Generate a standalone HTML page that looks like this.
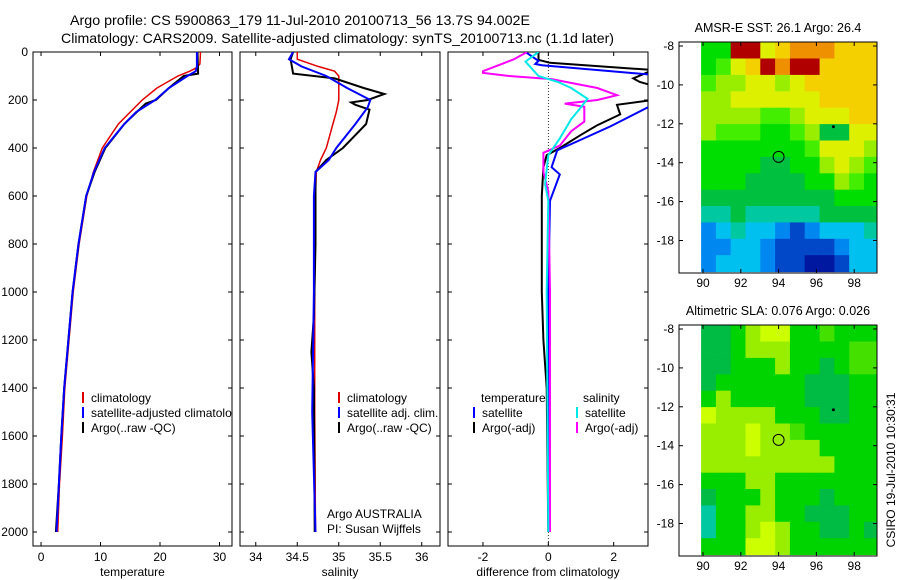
<!DOCTYPE html>
<html><head><meta charset="utf-8"><style>
body{margin:0;background:#fff}
svg{display:block;font-family:"Liberation Sans",sans-serif;font-size:12px}
</style></head><body>
<svg id="fig" width="900" height="580" viewBox="0 0 900 580">
<g id="titles" style="font-size:14px">
<text x="70" y="25" textLength="460" lengthAdjust="spacingAndGlyphs">Argo profile: CS 5900863_179 11-Jul-2010 20100713_56 13.7S 94.002E</text>
<text x="61" y="43" textLength="553" lengthAdjust="spacingAndGlyphs">Climatology: CARS2009. Satellite-adjusted climatology: synTS_20100713.nc (1.1d later)</text>
</g>
<g id="layer"></g>
</svg>
<script>
// ---- data ----
const depthTicks=[0,200,400,600,800,1000,1200,1400,1600,1800,2000];
const tTicks=[0,10,20,30];
const sTicks=[34,34.5,35,35.5,36];
const dTicks=[-2,0,2];
// temperature (depth, value)
const tClimD=[0,50,65,80,100,150,200,300,400,500,600,800,1000,1200,1400,1600,1800,2000];
const tClimV=[26.8,26.7,26.2,25,23,19.5,17,13,10.3,8.8,7.7,6.4,5.4,4.7,4.0,3.6,3.1,2.8];
const tSatD=[0,60,80,100,150,200,250,300,400,500,600,800,1000,1200,1400,1600,1800,2000];
const tSatV=[26.2,26.2,26,24.6,21.5,19.2,16,14,10.7,8.9,7.6,6.3,5.3,4.6,3.9,3.4,3.0,2.6];
const tArgoD=[0,90,100,150,200,215,250,300,400,500,600,800,1000,1200,1400,1600,1800,2000];
const tArgoV=[26.3,26.4,24,21.5,19.3,17.6,16.1,14,10.8,9,7.6,6.3,5.3,4.6,3.9,3.4,3.0,2.5];
// salinity
const sClimD=[0,30,60,80,100,150,200,250,300,400,450,500,600,1000,1500,2000];
const sClimV=[34.5,34.5,34.75,34.95,35.0,35.0,35.0,34.97,34.93,34.85,34.78,34.73,34.72,34.71,34.71,34.72];
const sSatD=[0,30,60,100,150,200,230,300,400,450,500,600,1000,1500,2000];
const sSatV=[34.45,34.4,34.55,34.85,35.1,35.38,35.35,35.2,34.97,34.88,34.72,34.7,34.7,34.68,34.72];
const sArgoD=[0,30,90,110,150,175,200,210,220,240,300,400,450,500,800,1100,1250,1400,2000];
const sArgoV=[34.45,34.42,34.45,34.95,35.3,35.55,35.35,35.15,35.2,35.37,35.33,35.05,34.85,34.72,34.72,34.7,34.67,34.7,34.71];
// differences
const dTSatD=[0,37,50,55,95,220,310,367,410,480,510,620,1000,1500,2000];
const dTSatV=[-0.7,-0.3,-0.4,-0.2,3.2,3.2,1.9,0.97,0.27,0.1,0.35,0.05,0,0,0.05];
const dTArgoD=[0,33,45,75,110,125,140,185,200,220,260,305,345,400,430,480,600,1000,1200,1400,2000];
const dTArgoV=[-0.3,-0.3,0.05,3.2,2.6,2.8,3.2,3.2,3.2,2.1,2.2,1.5,1.0,0.35,-0.05,-0.15,-0.2,-0.2,-0.15,-0.05,0];
const dSArgoD=[0,30,80,87,100,113,150,180,200,215,228,290,330,390,420,500,580,1000,2000];
const dSArgoV=[-0.65,-1.05,-2.0,-2.0,-1.2,0.1,1.5,2.1,1.5,0.5,1.1,1.1,0.7,0.35,-0.15,-0.15,0,0.05,0.05];
const dSSatD=[0,40,55,100,125,150,195,230,280,360,430,550,620,1000,2000];
const dSSatV=[-0.3,-0.7,-0.6,-0.3,0.3,0.7,1.2,1.0,0.7,0.35,0,-0.1,0,-0.05,0];
// legends
const leg1=[["climatology","#e00000"],["satellite-adjusted climatology","#0000ff"],["Argo(..raw -QC)","#000"]];
const leg2=[["climatology","#e00000"],["satellite adj. clim.","#0000ff"],["Argo(..raw -QC)","#000"]];
// maps
const lonTicks=[90,92,94,96,98];
const latTicks=[-8,-10,-12,-14,-16,-18];
const sstGrid=["GGRRYyOOOyyy","GgYyRORRyyyy","gLLYYLYyyyyy","LLYYYYYYyyyy","LLLLggLYYYyy","LgggGGgLDDYY","GGGGGGGgYYYL","GGGGDDGGLYLg","GGGDDDDGGLgG","DDDDDDDDDGGG","TTDTTTTTDDDD","BCTCCBNBCCCT","BBCCBNNNNBCC","BCCCBNNKKNCC"];
const slaGrid=["DDGLYYGGgGGG","DDGLLLGGGGgg","DDGGGLGGDGgg","DGGGGGGDDDGG","GLGGGGGDDDGG","YLLLLGGGDDGG","LLLYLLgGGGGG","LLLYLLLLGGGG","LLLLLLLLLGGG","GGGLLGGGGGGG","DGGGLGGGDGGG","TGGLLGGDDDGG","TGGLYLGGDDGD","GGGYYLGGGGGG"];
const floatLon=94.0, floatLat=-13.7, otherLon=96.9, otherLat=-12.15;

const NS="http://www.w3.org/2000/svg";
const L=document.getElementById('layer');
function mk(tag,at,parent){const e=document.createElementNS(NS,tag);for(const k in at)e.setAttribute(k,at[k]);(parent||L).appendChild(e);return e;}
function txt(x,y,s,anchor,parent){const e=mk('text',{x:x,y:y,'text-anchor':anchor||'start'},parent);e.textContent=s;return e;}
const yD=d=>52+d*0.24;
const Y0=52,Y1=546;
function panel(id,x0,x1,vmin,vmax,ticks,label,name){
  const g=mk('g',{});
  
  
  const xf=v=>x0+(v-vmin)/(vmax-vmin)*(x1-x0);
  const cp=mk('clipPath',{id:'cp'+id},g);mk('rect',{x:x0,y:Y0,width:x1-x0,height:Y1-Y0},cp);
  const fr=mk('rect',{x:x0,y:Y0,width:x1-x0,height:Y1-Y0,fill:'none',stroke:'#000','stroke-width':1},g);
  
  ticks.forEach(t=>{const x=xf(t);mk('line',{x1:x,x2:x,y1:Y1,y2:Y1-4,stroke:'#000'},g);mk('line',{x1:x,x2:x,y1:Y0,y2:Y0+4,stroke:'#000'},g);
    const tl=txt(x,561,String(t),'middle',g);});
  depthTicks.forEach(d=>{const y=yD(d);mk('line',{x1:x0,x2:x0+4,y1:y,y2:y,stroke:'#000'},g);mk('line',{x1:x1,x2:x1-4,y1:y,y2:y,stroke:'#000'},g);});
  const xl=txt((x0+x1)/2,576,label,'middle',g);
  return {g:g,xf:xf,clip:'url(#cp'+id+')'};
}
function line(p,D,V,col,w,name){
  const pts=D.map((d,i)=>p.xf(V[i]).toFixed(1)+','+yD(d).toFixed(1)).join(' ');
  const e=mk('polyline',{points:pts,fill:'none',stroke:col,'stroke-width':w,'clip-path':p.clip},p.g);
  
}
depthTicks.forEach(d=>{const t=txt(28,yD(d)+4,String(d),'end');});

const p1=panel(1,33,232,-1.35,32.1,tTicks,'temperature','temperature-panel');
line(p1,tClimD,tClimV,'#e00000',1.5,'temperature-climatology-line');
line(p1,tArgoD,tArgoV,'#000',2,'temperature-argo-line');
line(p1,tSatD,tSatV,'#0000ff',2,'temperature-satellite-line');
const p2=panel(2,240,440,33.81,36.22,sTicks,'salinity','salinity-panel');
line(p2,sClimD,sClimV,'#e00000',1.5,'salinity-climatology-line');
line(p2,sArgoD,sArgoV,'#000',2,'salinity-argo-line');
line(p2,sSatD,sSatV,'#0000ff',2,'salinity-satellite-line');
const p3=panel(3,448,648,-3.07,3.05,dTicks,'difference from climatology','difference-panel');
const zx=p3.xf(0);
const zl=mk('line',{x1:zx,x2:zx,y1:Y0,y2:Y1,stroke:'#000','stroke-dasharray':'1,2','stroke-width':0.8},p3.g);

line(p3,dTArgoD,dTArgoV,'#000',2,'temperature-argo-diff-line');
line(p3,dTSatD,dTSatV,'#0000ff',2,'temperature-satellite-diff-line');
line(p3,dSArgoD,dSArgoV,'#ff00ff',2,'salinity-argo-diff-line');
line(p3,dSSatD,dSSatV,'#00e8e8',2,'salinity-satellite-diff-line');

function legend(p,items,x,y0,name,clipped){
  const g=mk('g',clipped?{'clip-path':p.clip}:{},p.g);
  
  items.forEach((it,i)=>{const y=y0+i*15;mk('line',{x1:x,x2:x,y1:y-10,y2:y+1,stroke:it[1],'stroke-width':2},g);
    const t=txt(x+8,y,it[0],'start',g);});
}
legend(p1,leg1,83,402,'temperature-legend',true);
legend(p2,leg2,339,402,'salinity-legend',true);
txt(481,402,'temperature','start',p3.g);txt(583,402,'salinity','start',p3.g);
legend(p3,[["satellite","#0000ff"],["Argo(-adj)","#000"]],474,417,'temperature-diff-legend',false);
legend(p3,[["satellite","#00e8e8"],["Argo(-adj)","#ff00ff"]],577,417,'salinity-diff-legend',false);
const cr=mk('g',{},p2.g);
txt(327,518,'Argo AUSTRALIA','start',cr);txt(327,533,'PI: Susan Wijffels','start',cr);

// maps
const COL={G:'#00dd00',g:'#44ee00',L:'#99ee00',Y:'#ddf000',y:'#f5d000',O:'#ee9000',R:'#b00000',D:'#00c040',T:'#00c8a0',C:'#00c0f0',B:'#0088f0',N:'#0048c8',K:'#0018a0'};
const COL2={G:'#00d400',g:'#44e000',L:'#99ee00',Y:'#ccff00',D:'#00bb44',T:'#00c8a0'};
function map(top,bot,grid,pal,title,name){
  const g=mk('g',{});
  const bx0=679,bx1=877;
  const lx=v=>703+(v-90)*18.9;
  const ly=v=>top+4+(-8-v)*19.45;
  const lonA=89.9,lonB=99.3,latA=-7.8,latB=-19.6;
  const nr=grid.length,nc=grid[0].length;
  const dLon=(lonB-lonA)/nc,dLat=(latA-latB)/nr;
  const cp=mk('clipPath',{id:'cp'+name},g);mk('rect',{x:bx0,y:top,width:bx1-bx0,height:bot-top},cp);
  const cells=mk('g',{'clip-path':'url(#cp'+name+')'},g);
  grid.forEach((row,r)=>{for(let c=0;c<nc;c++){
    const x=lx(lonA+c*dLon),y=ly(latA-r*dLat);
    const e=mk('rect',{x:x.toFixed(1),y:y.toFixed(1),width:(lx(lonA+(c+1)*dLon)-x+0.5).toFixed(1),height:(ly(latA-(r+1)*dLat)-y+0.5).toFixed(1),fill:pal[row[c]]},cells);
    }});
  mk('rect',{x:bx0,y:top,width:bx1-bx0,height:bot-top,fill:'none',stroke:'#000'},g);
  lonTicks.forEach(v=>{const x=lx(v);mk('line',{x1:x,x2:x,y1:bot,y2:bot-4,stroke:'#000'},g);mk('line',{x1:x,x2:x,y1:top,y2:top+4,stroke:'#000'},g);
    const t=txt(x,bot+14,String(v),'middle',g);});
  latTicks.forEach(v=>{const y=ly(v);mk('line',{x1:bx0,x2:bx0+4,y1:y,y2:y,stroke:'#000'},g);mk('line',{x1:bx1,x2:bx1-4,y1:y,y2:y,stroke:'#000'},g);
    const t=txt(674,y+4,String(v),'end',g);});
  const c=mk('circle',{cx:lx(floatLon),cy:ly(floatLat),r:5.5,fill:'none',stroke:'#000'},g);
  
  const d=mk('circle',{cx:lx(otherLon),cy:ly(otherLat),r:1.5,fill:'#000'},g);
  
  const t=txt(778,top-10,title,'middle',g);
  t.setAttribute('style','font-size:12.5px');
}
map(42,273,sstGrid,COL,'AMSR-E SST: 26.1 Argo: 26.4','sst-map');
map(325,556,slaGrid,COL2,'Altimetric SLA: 0.076 Argo: 0.026','sla-map');
const ts=mk('text',{x:0,y:0,transform:'translate(895,470) rotate(-90)','text-anchor':'middle'});
ts.textContent='CSIRO 19-Jul-2010 10:30:31';


</script>
</body></html>
